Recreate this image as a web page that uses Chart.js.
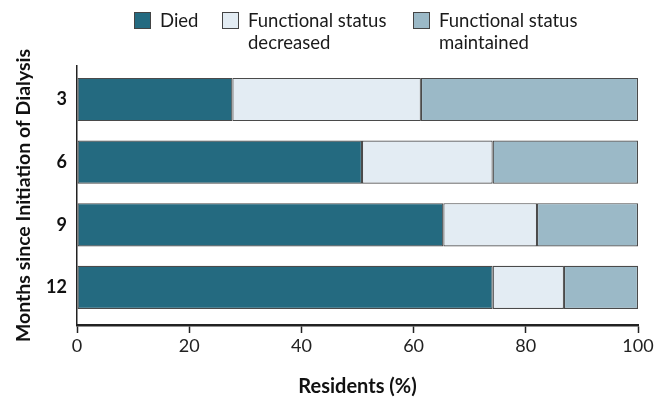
<!DOCTYPE html>
<html>
<head>
<meta charset="utf-8">
<script src="https://cdn.jsdelivr.net/npm/chart.js@4.4.0/dist/chart.umd.min.js"></script>
<style>
  body { margin: 0; background: #fff; font-family: Lato, 'Open Sans', sans-serif; }
  #wrap { position: relative; width: 664px; height: 405px; }
  canvas { position: absolute; left: 0; top: 0; }
  .item { position: absolute; top: 9px; font-size: 18.5px; line-height: 22px; color: #1a1a1a; }
  .box { position: absolute; left: 0; top: 3px; width: 17px; height: 17px; border: 1px solid #444; box-sizing: border-box; }
  .item span { display: block; padding-left: 26px; }
</style>
</head>
<body>
<div id="wrap">
  <canvas id="chart" width="664" height="405"></canvas>
  <div id="legend"></div>
</div>
<script>
// Datos
const months = ['3', '6', '9', '12'];
const died = [27.7, 50.8, 65.3, 74.1];
const decreased = [33.6, 23.3, 16.7, 12.7];
const maintained = [38.7, 25.9, 18.0, 13.2];
const seriesNames = ['Died', 'Functional status\ndecreased', 'Functional status\nmaintained'];
const seriesColors = ['#246a80', '#e3ecf3', '#9bb9c7'];

const toPoints = arr => arr.map((v, i) => ({ x: v, y: i }));

// Leyenda en HTML (etiquetas de dos líneas)
const legend = document.getElementById('legend');
const legendLeft = [134, 222, 413];
seriesNames.forEach((name, i) => {
  const it = document.createElement('div');
  it.className = 'item';
  it.style.left = legendLeft[i] + 'px';
  it.innerHTML = '<div class="box" style="background:' + seriesColors[i] + '"></div>' +
    '<span>' + name.replace('\n', '<br>') + '</span>';
  legend.appendChild(it);
});

const dark = '#222';
const yMin = -0.535, yMax = 3.6;

new Chart(document.getElementById('chart'), {
  type: 'bar',
  data: {
    datasets: [died, decreased, maintained].map((arr, i) => ({
      label: seriesNames[i],
      data: toPoints(arr),
      backgroundColor: seriesColors[i],
      borderColor: '#4a4a4a',
      borderWidth: 1.2,
      borderSkipped: false,
      barPercentage: 0.69,
      categoryPercentage: 1
    }))
  },
  options: {
    indexAxis: 'y',
    responsive: false,
    animation: false,
    layout: { padding: { top: 66, right: 26, left: 10, bottom: 2 } },
    plugins: { legend: { display: false }, tooltip: { enabled: false } },
    scales: {
      x: {
        stacked: true,
        min: 0,
        max: 100,
        ticks: { stepSize: 20, color: dark, font: { family: 'Lato', size: 18 }, padding: 2 },
        grid: { drawOnChartArea: false, drawTicks: true, tickLength: 8, tickColor: dark, tickWidth: 1.5 },
        border: { color: dark, width: 2.5 },
        title: { display: true, text: 'Residents (%)', color: '#111', font: { family: 'Lato', size: 20, weight: 'bold' }, padding: { top: 6 } },
        afterFit: s => { s.height = 78; }
      },
      y: {
        type: 'linear',
        stacked: true,
        reverse: true,
        offset: false,
        min: yMin,
        max: yMax,
        afterBuildTicks: s => {
          s.ticks = months.map((m, i) => ({ value: i }));
          s.min = yMin;
          s.max = yMax;
        },
        ticks: { callback: v => months[v] ?? '', color: '#111', font: { family: 'Lato', size: 18, weight: 'bold' }, padding: 10 },
        grid: { display: false, drawTicks: false, offset: false },
        border: { color: dark, width: 1.5 },
        title: { display: true, text: 'Months since Initiation of Dialysis', color: '#111', font: { family: 'Lato', size: 19.5, weight: 'bold' }, padding: 2 },
        afterFit: s => { s.width = 67; }
      }
    }
  }
});
</script>
</body>
</html>
